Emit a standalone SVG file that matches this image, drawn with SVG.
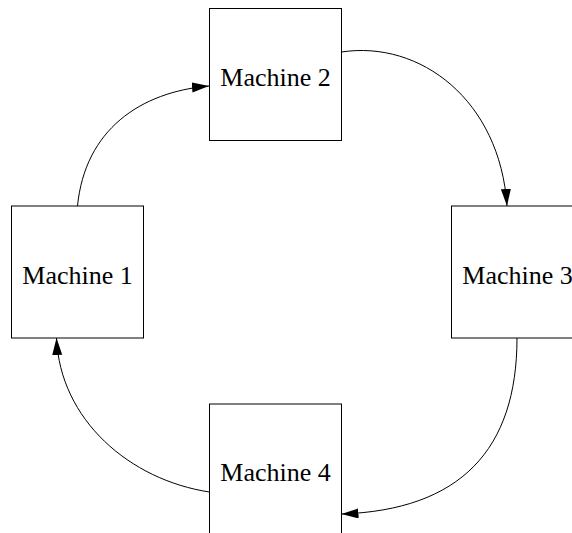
<svg xmlns="http://www.w3.org/2000/svg" width="572" height="533" viewBox="0 0 572 533">
<style>
.box{fill:#fff;stroke:#000;stroke-width:1}
.lbl{font-family:"Liberation Serif","Times New Roman",serif;font-size:26px;text-anchor:middle;fill:#000}
.edge{fill:none;stroke:#000;stroke-width:1}
</style>
<defs>
<marker id="arr" markerUnits="userSpaceOnUse" markerWidth="18" markerHeight="11" refX="17" refY="5" orient="auto">
<path d="M0,0 L17,5 L0,10 z" fill="#000"/>
</marker>
</defs>
<rect width="572" height="533" fill="#fff"/>
<g id="machine1"><rect class="box" x="11.5" y="206" width="132" height="132"/><text class="lbl" x="77.5" y="284">Machine 1</text></g>
<g id="machine2"><rect class="box" x="209.5" y="8.5" width="132" height="132"/><text class="lbl" x="275.5" y="86">Machine 2</text></g>
<g id="machine3"><rect class="box" x="451.5" y="206" width="132" height="132"/><text class="lbl" x="517.5" y="284">Machine 3</text></g>
<g id="machine4"><rect class="box" x="209.5" y="404" width="132" height="132"/><text class="lbl" x="275.5" y="481">Machine 4</text></g>
<g id="connectors">
<path class="edge" d="M77.5,206 C85,130 140,92 209,86" marker-end="url(#arr)"/>
<path class="edge" d="M341.5,52 C420,40 500,100 507,206" marker-end="url(#arr)"/>
<path class="edge" d="M517,338 C517,450 460,510 341.5,514" marker-end="url(#arr)"/>
<path class="edge" d="M209.5,492 C130,480 60,420 56.5,338" marker-end="url(#arr)"/>
</g>
</svg>
